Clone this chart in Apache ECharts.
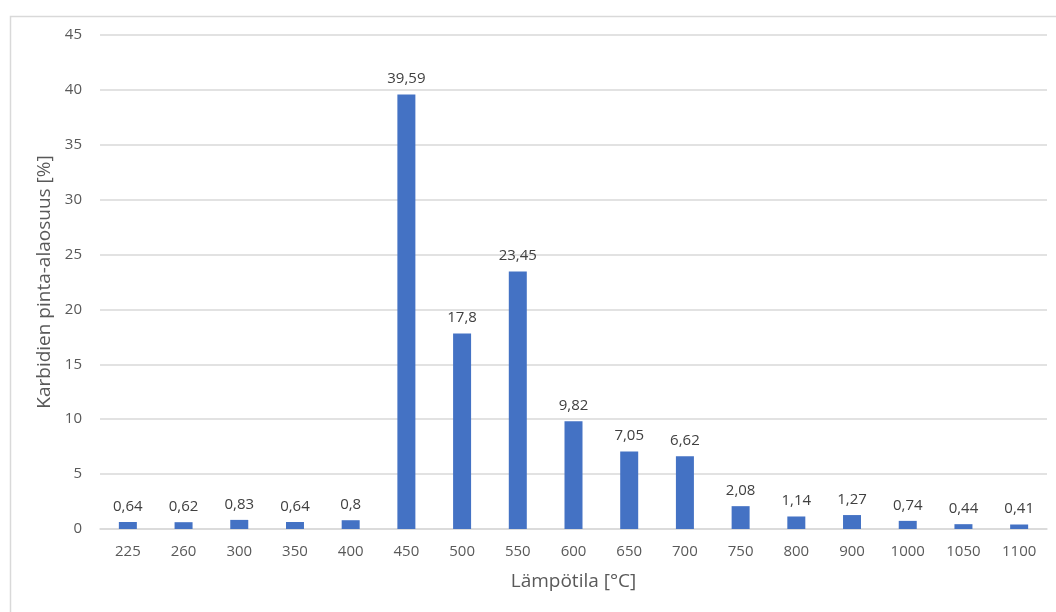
<!DOCTYPE html>
<html>
<head>
<meta charset="utf-8">
<script src="https://cdn.jsdelivr.net/npm/echarts@6/dist/echarts.min.js"></script>
<style>
  html, body { margin: 0; padding: 0; background: #fff; }
  #chart { width: 1056px; height: 612px; }
</style>
</head>
<body>
<div id="chart"></div>
<script>
// Carbide area fraction by annealing temperature
const temperatures = ['225', '260', '300', '350', '400', '450', '500', '550', '600', '650', '700', '750', '800', '900', '1000', '1050', '1100'];
const carbideShare = [0.64, 0.62, 0.83, 0.64, 0.8, 39.59, 17.8, 23.45, 9.82, 7.05, 6.62, 2.08, 1.14, 1.27, 0.74, 0.44, 0.41];
const yTicks = [0, 5, 10, 15, 20, 25, 30, 35, 40, 45];

const font = '"Open Sans", "Noto Sans", sans-serif';
const textColor = '#595959';

const chart = echarts.init(document.getElementById('chart'), null, { renderer: 'canvas' });
chart.setOption({
  animation: false,
  backgroundColor: '#ffffff',
  graphic: [{
    type: 'rect',
    left: 8, top: 14,
    shape: { width: 1060, height: 610 },
    style: { fill: 'none', stroke: '#d9d9d9', lineWidth: 1.5 },
    silent: true
  }],
  grid: { left: 100, right: 9, top: 35, bottom: 83 },
  xAxis: {
    type: 'category',
    data: temperatures,
    name: 'Lämpötila [°C]',
    nameLocation: 'middle',
    nameGap: 43,
    nameTextStyle: { fontFamily: font, fontSize: 19, color: textColor },
    axisLine: { lineStyle: { color: '#d9d9d9', width: 1.5 } },
    axisTick: { show: false },
    axisLabel: { fontFamily: font, fontSize: 15, color: textColor, margin: 15 }
  },
  yAxis: {
    type: 'value',
    min: yTicks[0],
    max: yTicks[yTicks.length - 1],
    interval: 5,
    name: 'Karbidien pinta-alaosuus [%]',
    nameLocation: 'middle',
    nameGap: 45,
    nameTextStyle: { fontFamily: font, fontSize: 19, color: textColor },
    axisLine: { show: false },
    axisTick: { show: false },
    axisLabel: { fontFamily: font, fontSize: 15, color: textColor, margin: 18 },
    splitLine: { lineStyle: { color: '#d9d9d9', width: 1.5 } }
  },
  series: [{
    type: 'bar',
    data: carbideShare,
    barWidth: 18,
    itemStyle: { color: '#4472c4' },
    label: {
      show: true,
      position: 'top',
      distance: 8,
      fontFamily: font,
      fontSize: 15,
      color: '#404040',
      formatter: p => String(p.value).replace('.', ',')
    }
  }]
});
</script>
</body>
</html>
